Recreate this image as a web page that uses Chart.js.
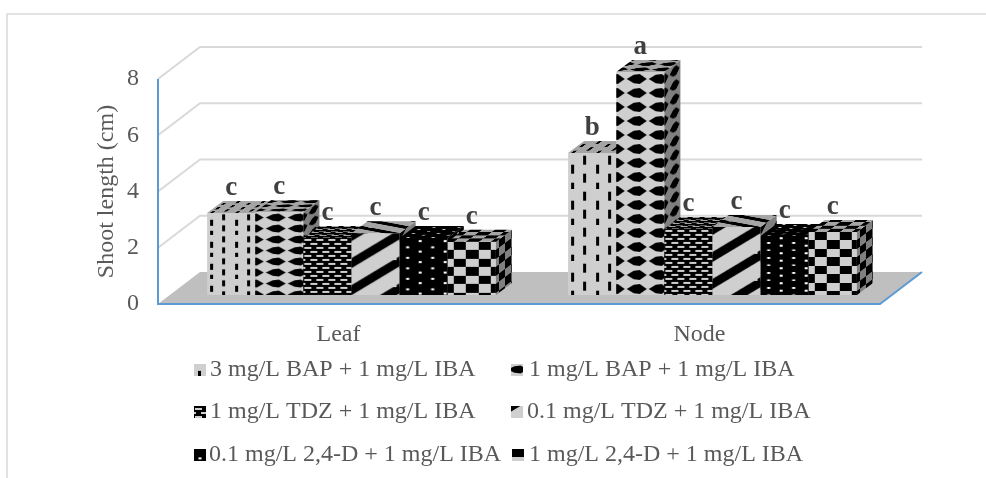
<!DOCTYPE html>
<html>
<head>
<meta charset="utf-8">
<title>Shoot length</title>
<style>
  html, body { margin: 0; padding: 0; background: #fff; }
  canvas { display: block; }
</style>
<script src="https://cdn.jsdelivr.net/npm/chart.js@4"></script>
</head>
<body>
<canvas id="chart" width="986" height="478"></canvas>
<script>
// data
const categories = ['Leaf', 'Node'];
const seriesLabels = [
  '3 mg/L BAP + 1 mg/L IBA',
  '1 mg/L BAP + 1 mg/L IBA',
  '1 mg/L TDZ + 1 mg/L IBA',
  '0.1 mg/L TDZ + 1 mg/L IBA',
  '0.1 mg/L 2,4-D + 1 mg/L IBA',
  '1 mg/L 2,4-D + 1 mg/L IBA'
];
const bap3 = [2.92, 5.05];
const bap1 = [2.95, 7.93];
const tdz1 = [2.03, 2.35];
const tdz01 = [2.2, 2.42];
const d24_01 = [2.03, 2.1];
const d24_1 = [1.89, 2.24];
const bap3Letters = ['c', 'b'];
const bap1Letters = ['c', 'a'];
const tdz1Letters = ['c', 'c'];
const tdz01Letters = ['c', 'c'];
const d24_01Letters = ['c', 'c'];
const d24_1Letters = ['c', 'c'];

const seriesValues = [bap3, bap1, tdz1, tdz01, d24_01, d24_1];
const seriesLetters = [bap3Letters, bap1Letters, tdz1Letters, tdz01Letters, d24_01Letters, d24_1Letters];

// look of the 3d box
const LIGHT = '#cfcfcf', DARK = '#000000';
const TEXT = '#595959', GRID = '#d9d9d9', BLUE = '#5b9bd5', FLOOR = '#bfbfbf';
const WALL_DX = 42, WALL_DY = 32;    // floor depth
const FRONT_DX = 13, FRONT_DY = 9;   // bars stand inside the floor
const BAR_DX = 16, BAR_DY = 12;      // depth of one bar
const SERIF = '"Liberation Serif", "Times New Roman", serif';

// tile size per category: Excel stretches some of the fills with the bar height
const tileHeights = [
  [22, 36],
  [11, 14],
  [8, 8],
  [27, 27],
  [21, 15],
  [17, 17]
];
// moves each legend swatch's tile so it shows what the original swatch shows
const swatchShift = [[1, 0], [-14, 0], [0, 1], [-4, 0], [-2, 0], [-6, 0]];

function new_tile(w, h, bg) {
  var c = document.createElement('canvas');
  c.width = w; c.height = h;
  var g = c.getContext('2d');
  g.fillStyle = bg;
  g.fillRect(0, 0, w, h);
  g.fillStyle = DARK;
  return [c, g];
}

function make_tile(kind, h) {
  var t, g, dash;
  if (kind === 0) {          // staggered vertical dashes
    t = new_tile(25, h, LIGHT); g = t[1];
    dash = Math.round(h / 4);
    g.fillRect(3, h * 0.45 - dash / 2, 3, dash);
    g.fillRect(15, h * 0.2 - dash / 2, 3, dash);
    g.fillRect(3, h * 0.95 - dash / 2, 3, dash);
    g.fillRect(15, h * 0.7 - dash / 2, 3, dash);
  } else if (kind === 1) {   // wide diamonds
    t = new_tile(22, h, LIGHT); g = t[1];
    [-1.5, 20.5].forEach(function(cx) {
      g.beginPath();
      g.moveTo(cx - 10, h / 2);
      g.lineTo(cx - 3, h * 0.5 - h * 0.3);
      g.lineTo(cx + 3, h * 0.5 - h * 0.36);
      g.lineTo(cx + 10, h / 2);
      g.lineTo(cx + 3, h * 0.5 + h * 0.36);
      g.lineTo(cx - 3, h * 0.5 + h * 0.3);
      g.closePath();
      g.fill();
    });
  } else if (kind === 2) {   // dark bricks with light slits
    t = new_tile(12, h, DARK); g = t[1];
    g.fillStyle = LIGHT;
    g.fillRect(1, 1, 7, 2);
    g.fillRect(7, 5, 7, 2);
    g.fillRect(-5, 5, 7, 2);
  } else if (kind === 3) {   // rising diagonal stripes
    t = new_tile(45, h, LIGHT); g = t[1];
    [0, h].forEach(function(s) {
      g.beginPath();
      g.moveTo(0, s + 3 - 5);
      g.lineTo(45, s + 3 - h - 5);
      g.lineTo(45, s + 3 - h + 5);
      g.lineTo(0, s + 3 + 5);
      g.closePath();
      g.fill();
    });
  } else if (kind === 4) {   // black with small light dots
    t = new_tile(25, h, DARK); g = t[1];
    g.fillStyle = '#ffffff';
    g.fillRect(6.5, h * 0.4, 3, 2);
    g.fillRect(19, h * 0.15 - 1, 3, 2);
    g.fillRect(6.5, h * 0.9, 3, 2);
    g.fillRect(19, h * 0.65 - 1, 3, 2);
  } else {                   // checker
    t = new_tile(25, h, LIGHT); g = t[1];
    var half = Math.floor(h / 2);
    g.fillRect(6, 0, 12, half);
    g.fillRect(0, half, 6, h - half);
    g.fillRect(18, half, 7, h - half);
  }
  return t[0];
}

var patternCtx = document.getElementById('chart').getContext('2d');
var patterns = seriesValues.map(function(vals, s) {
  return vals.map(function(v, c) {
    return patternCtx.createPattern(make_tile(s, tileHeights[s][c]), 'repeat');
  });
});
var swatches = seriesValues.map(function(vals, s) {
  return patternCtx.createPattern(make_tile(s, tileHeights[s][0]), 'repeat');
});

function polygon(ctx, pts) {
  ctx.beginPath();
  pts.forEach(function(p, i) {
    if (i === 0) ctx.moveTo(p[0], p[1]); else ctx.lineTo(p[0], p[1]);
  });
  ctx.closePath();
}

function shaded_face(ctx, pts, pattern, matrix, shade) {
  pattern.setTransform(new DOMMatrix(matrix));
  polygon(ctx, pts);
  ctx.fillStyle = pattern;
  ctx.fill();
  ctx.fillStyle = 'rgba(0,0,0,' + shade + ')';
  ctx.fill();
}

// paints series left to right so each bar's side goes under the next bar's front
function draw_bars(chart) {
  var ctx = chart.ctx;
  seriesValues.forEach(function(vals, s) {
    var meta = chart.getDatasetMeta(s);
    meta.data.forEach(function(el, c) {
      patterns[s][c].setTransform(new DOMMatrix([1, 0, 0, 1, el.x - el.width / 2, el.y]));
    });
    ctx.save();
    ctx.translate(FRONT_DX, -FRONT_DY);
    meta.controller.draw();
    ctx.restore();
    meta.data.forEach(function(el, c) {
      var pat = patterns[s][c];
      var xl = el.x - el.width / 2 + FRONT_DX, xr = xl + el.width;
      var top = el.y - FRONT_DY, bot = el.base - FRONT_DY;
      // the stripes lie flipped and tighter on the lid
      var lid = s === 3 ? [-1, 0, -0.6, 0.2, xl, top] : [1, 0, -0.5, 0.375, xl, top];
      shaded_face(ctx, [[xr, top], [xr + BAR_DX, top - BAR_DY], [xr + BAR_DX, bot - BAR_DY], [xr, bot]],
        pat, [0.5, -0.375, 0, 1, xr, top], 0.38);
      shaded_face(ctx, [[xl, top], [xr, top], [xr + BAR_DX, top - BAR_DY], [xl + BAR_DX, top - BAR_DY]],
        pat, lid, 0.2);
    });
  });
}

const box3d = {
  id: 'box3d',
  beforeDatasetsDraw: function(chart) {
    var ctx = chart.ctx, x = chart.scales.x, y = chart.scales.y;
    var l = x.left, r = x.right, b = y.getPixelForValue(0);
    ctx.save();
    // chart frame
    ctx.strokeStyle = GRID;
    ctx.lineWidth = 1.5;
    ctx.beginPath();
    ctx.moveTo(7, 478); ctx.lineTo(7, 14); ctx.lineTo(986, 14);
    ctx.stroke();
    // side and back wall gridlines
    ctx.strokeStyle = GRID;
    ctx.lineWidth = 2;
    y.ticks.forEach(function(t) {
      if (t.value === 0) return;
      var py = y.getPixelForValue(t.value);
      ctx.beginPath();
      ctx.moveTo(l, py);
      ctx.lineTo(l + WALL_DX, py - WALL_DY);
      ctx.lineTo(r + WALL_DX, py - WALL_DY);
      ctx.stroke();
    });
    // floor
    polygon(ctx, [[l, b], [r, b], [r + WALL_DX, b - WALL_DY], [l + WALL_DX, b - WALL_DY]]);
    ctx.fillStyle = FLOOR;
    ctx.fill();
    // blue axes
    ctx.strokeStyle = BLUE;
    ctx.lineWidth = 2;
    ctx.beginPath();
    ctx.moveTo(l, y.getPixelForValue(8));
    ctx.lineTo(l, b);
    ctx.lineTo(r, b);
    ctx.lineTo(r + WALL_DX, b - WALL_DY);
    ctx.stroke();
    ctx.restore();
  },
  beforeDatasetDraw: function() {
    return false;    // bars are painted in afterDatasetsDraw, in our own order
  },
  afterDatasetsDraw: function(chart) {
    var ctx = chart.ctx;
    draw_bars(chart);
    ctx.save();
    ctx.fillStyle = '#404040';
    ctx.font = 'bold 27px ' + SERIF;
    ctx.textAlign = 'center';
    ctx.textBaseline = 'alphabetic';
    chart.data.datasets.forEach(function(ds, s) {
      chart.getDatasetMeta(s).data.forEach(function(el, c) {
        ctx.fillText(seriesLetters[s][c], el.x + FRONT_DX, el.y - FRONT_DY - 18);
      });
    });
    ctx.restore();
  },
  afterDraw: function(chart) {
    var ctx = chart.ctx;
    // 2 columns, 3 rows, not quite aligned in the original
    var spots = [
      [194, 210, 370], [511, 529, 370],
      [194, 210, 412], [511, 527, 412],
      [194, 209, 455], [512, 529, 455]
    ];
    ctx.save();
    ctx.font = '24px ' + SERIF;
    ctx.textBaseline = 'middle';
    seriesLabels.forEach(function(label, s) {
      var p = spots[s], sh = swatchShift[s];
      swatches[s].setTransform(new DOMMatrix([1, 0, 0, 1, p[0] + sh[0], p[2] - 6 + sh[1]]));
      ctx.fillStyle = swatches[s];
      ctx.fillRect(p[0], p[2] - 6, 12, 12);
      ctx.fillStyle = TEXT;
      ctx.fillText(label, p[1], p[2]);
    });
    ctx.restore();
  }
};

new Chart(document.getElementById('chart'), {
  type: 'bar',
  data: {
    labels: categories,
    datasets: seriesValues.map(function(vals, s) {
      return {
        label: seriesLabels[s],
        data: vals,
        backgroundColor: patterns[s],
        borderWidth: 0,
        clip: false
      };
    })
  },
  options: {
    responsive: false,
    animation: false,
    events: [],
    layout: { padding: { left: 0, right: 106, top: 79, bottom: 0 } },
    datasets: { bar: { categoryPercentage: 0.8, barPercentage: 1 } },
    scales: {
      x: {
        grid: { display: false, drawTicks: false },
        border: { display: false },
        ticks: { color: TEXT, padding: 16, font: { family: SERIF, size: 24 } },
        afterFit: function(s) { s.height = 174; }
      },
      y: {
        min: 0,
        max: 8,
        grid: { display: false, drawTicks: false },
        border: { display: false },
        ticks: { stepSize: 2, color: TEXT, padding: 19, font: { family: SERIF, size: 24 } },
        title: {
          display: true,
          text: 'Shoot length (cm)',
          color: TEXT,
          font: { family: SERIF, size: 24 },
          padding: { top: 92, bottom: 0 }
        },
        afterFit: function(s) { s.width = 158; }
      }
    },
    plugins: {
      legend: { display: false },
      tooltip: { enabled: false }
    }
  },
  plugins: [box3d]
});
</script>
</body>
</html>
